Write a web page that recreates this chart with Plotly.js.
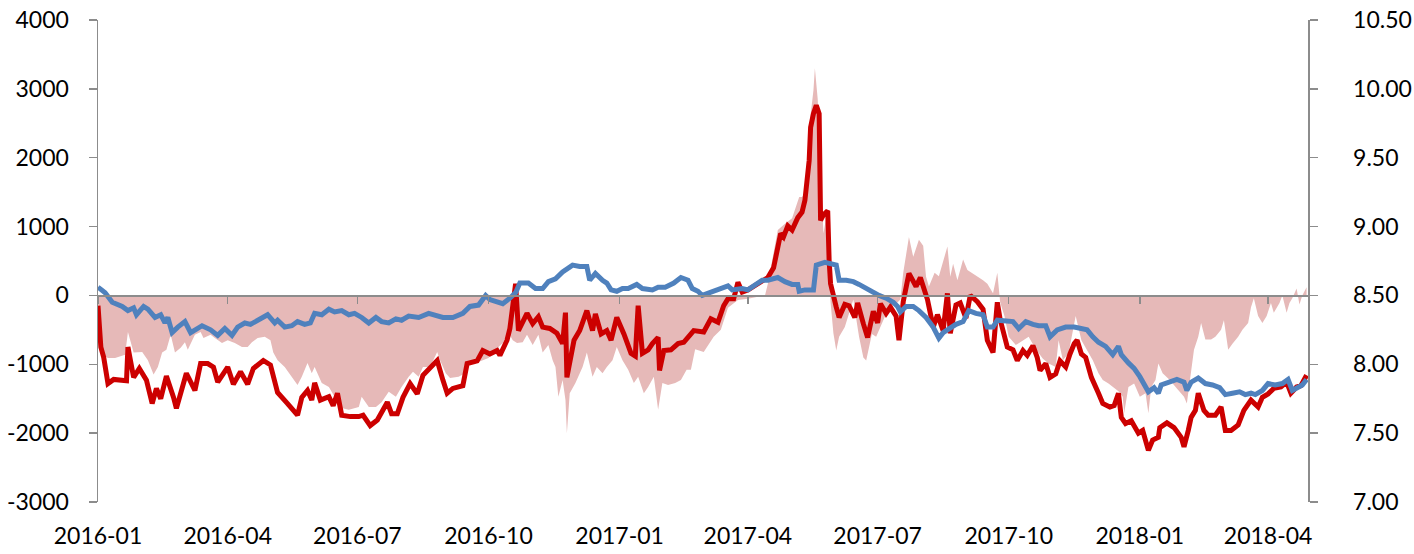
<!DOCTYPE html>
<html>
<head>
<meta charset="utf-8">
<script src="https://cdn.plot.ly/plotly-3.0.1.min.js"></script>
<style>
  html, body { margin: 0; padding: 0; background: #ffffff; }
  #chart { width: 1414px; height: 554px; }
</style>
</head>
<body>
<div id="chart"></div>
<script>
// ---- Data ----
const xTickVals = ['2016-01-01','2016-04-01','2016-07-01','2016-10-01','2017-01-01','2017-04-01','2017-07-01','2017-10-01','2018-01-01','2018-04-01'];
const xTickText = ['2016-01','2016-04','2016-07','2016-10','2017-01','2017-04','2017-07','2017-10','2018-01','2018-04'];
const leftTickVals = [-3000,-2000,-1000,0,1000,2000,3000,4000];
const leftTickText = ['-3000','-2000','-1000','0','1000','2000','3000','4000'];
const rightTickVals = [7.0,7.5,8.0,8.5,9.0,9.5,10.0,10.5];
const rightTickText = ['7.00','7.50','8.00','8.50','9.00','9.50','10.00','10.50'];

// Pink area series (left axis)
const areaDates = ['2016-01-01','2016-01-03','2016-01-08','2016-01-13','2016-01-20','2016-01-22','2016-01-26','2016-02-01','2016-02-05','2016-02-09','2016-02-12','2016-02-15','2016-02-18','2016-02-21','2016-02-24','2016-02-28','2016-03-02','2016-03-04','2016-03-09','2016-03-13','2016-03-15','2016-03-20','2016-03-23','2016-03-28','2016-04-01','2016-04-06','2016-04-11','2016-04-15','2016-04-18','2016-04-22','2016-04-27','2016-05-01','2016-05-03','2016-05-06','2016-05-11','2016-05-16','2016-05-20','2016-05-23','2016-05-27','2016-05-30','2016-06-01','2016-06-06','2016-06-11','2016-06-15','2016-06-19','2016-06-25','2016-07-02','2016-07-04','2016-07-09','2016-07-14','2016-07-18','2016-07-23','2016-07-28','2016-08-01','2016-08-06','2016-08-09','2016-08-13','2016-08-16','2016-08-21','2016-08-26','2016-08-28','2016-09-01','2016-09-04','2016-09-10','2016-09-13','2016-09-16','2016-09-22','2016-09-27','2016-10-01','2016-10-06','2016-10-11','2016-10-15','2016-10-18','2016-10-21','2016-10-25','2016-10-28','2016-11-01','2016-11-05','2016-11-08','2016-11-12','2016-11-15','2016-11-17','2016-11-19','2016-11-22','2016-11-24','2016-11-25','2016-11-27','2016-12-01','2016-12-06','2016-12-09','2016-12-13','2016-12-16','2016-12-20','2016-12-23','2016-12-27','2016-12-30','2017-01-03','2017-01-07','2017-01-11','2017-01-14','2017-01-18','2017-01-21','2017-01-25','2017-01-28','2017-01-31','2017-02-04','2017-02-09','2017-02-13','2017-02-17','2017-02-20','2017-02-23','2017-03-01','2017-03-08','2017-03-13','2017-03-18','2017-03-25','2017-04-01','2017-04-08','2017-04-13','2017-04-15','2017-04-18','2017-04-20','2017-04-22','2017-04-27','2017-05-02','2017-05-07','2017-05-09','2017-05-11','2017-05-14','2017-05-17','2017-05-18','2017-05-20','2017-05-22','2017-05-24','2017-05-26','2017-05-28','2017-05-29','2017-05-31','2017-06-02','2017-06-04','2017-06-08','2017-06-11','2017-06-14','2017-06-16','2017-06-18','2017-06-21','2017-06-23','2017-06-27','2017-06-30','2017-07-05','2017-07-09','2017-07-14','2017-07-17','2017-07-19','2017-07-23','2017-07-26','2017-07-30','2017-08-02','2017-08-04','2017-08-06','2017-08-10','2017-08-13','2017-08-16','2017-08-19','2017-08-21','2017-08-23','2017-08-26','2017-08-30','2017-09-02','2017-09-06','2017-09-09','2017-09-13','2017-09-16','2017-09-20','2017-09-23','2017-09-25','2017-09-28','2017-10-01','2017-10-06','2017-10-11','2017-10-15','2017-10-20','2017-10-25','2017-10-29','2017-11-03','2017-11-05','2017-11-08','2017-11-12','2017-11-17','2017-11-21','2017-11-25','2017-11-29','2017-12-03','2017-12-06','2017-12-10','2017-12-13','2017-12-17','2017-12-20','2017-12-21','2017-12-24','2017-12-28','2018-01-01','2018-01-05','2018-01-07','2018-01-09','2018-01-12','2018-01-14','2018-01-17','2018-01-22','2018-01-27','2018-02-01','2018-02-03','2018-02-05','2018-02-08','2018-02-11','2018-02-13','2018-02-16','2018-02-20','2018-02-23','2018-02-27','2018-03-01','2018-03-04','2018-03-07','2018-03-11','2018-03-14','2018-03-18','2018-03-20','2018-03-22','2018-03-25','2018-03-28','2018-03-31','2018-04-03','2018-04-05','2018-04-09','2018-04-11','2018-04-14','2018-04-16','2018-04-18','2018-04-21','2018-04-23','2018-04-25','2018-04-28'];
const areaValues = [-400,-850,-910,-910,-860,-530,-830,-820,-940,-1150,-1040,-830,-790,-570,-830,-760,-680,-790,-570,-530,-620,-570,-620,-690,-650,-690,-750,-750,-680,-620,-600,-650,-830,-940,-1040,-1180,-1300,-1180,-980,-1130,-1040,-1270,-1330,-1470,-1630,-1660,-1620,-1470,-1620,-1620,-1550,-1400,-1470,-1330,-1180,-1110,-1180,-1040,-1040,-820,-940,-1130,-1200,-1180,-1150,-980,-980,-940,-910,-790,-690,-540,-650,-690,-680,-570,-720,-570,-830,-720,-940,-1040,-1470,-1230,-1520,-2000,-1420,-1270,-1040,-830,-1180,-1040,-1130,-1040,-940,-750,-940,-1080,-1270,-1180,-1420,-1330,-1180,-1660,-1270,-1300,-1270,-1230,-1080,-1080,-780,-820,-600,-500,-180,-65,-50,-20,0,170,500,750,950,1040,1120,1430,1430,1480,2440,2980,3300,2850,1960,900,1140,550,-100,-550,-800,-600,-460,-250,-60,-340,-600,-900,-945,-560,-600,-360,-170,-120,-60,330,850,560,810,720,270,130,330,280,510,710,270,460,220,520,370,320,270,220,170,30,330,-100,-300,-600,-720,-650,-600,-780,-920,-990,-1040,-650,-940,-840,-300,-650,-790,-940,-1130,-1230,-1280,-1330,-1390,-1470,-1710,-1330,-1280,-1470,-1420,-1710,-1330,-1230,-990,-1130,-1230,-1350,-1470,-1570,-1230,-790,-600,-400,-640,-640,-600,-500,-360,-790,-700,-600,-500,-400,-170,-40,-300,-400,-300,-110,-250,-110,0,-250,-110,-40,100,-130,0,120];

// Red line series (left axis)
const redDates = ['2016-01-01','2016-01-03','2016-01-05','2016-01-08','2016-01-12','2016-01-16','2016-01-21','2016-01-22','2016-01-26','2016-01-30','2016-02-04','2016-02-08','2016-02-11','2016-02-14','2016-02-18','2016-02-23','2016-02-25','2016-03-03','2016-03-09','2016-03-13','2016-03-18','2016-03-22','2016-03-25','2016-04-01','2016-04-05','2016-04-10','2016-04-15','2016-04-19','2016-04-26','2016-05-01','2016-05-06','2016-05-13','2016-05-20','2016-05-23','2016-05-27','2016-05-30','2016-06-01','2016-06-05','2016-06-11','2016-06-14','2016-06-17','2016-06-20','2016-06-26','2016-07-02','2016-07-05','2016-07-10','2016-07-15','2016-07-22','2016-07-25','2016-07-29','2016-08-02','2016-08-07','2016-08-12','2016-08-16','2016-08-21','2016-08-26','2016-08-30','2016-09-02','2016-09-06','2016-09-13','2016-09-16','2016-09-23','2016-09-27','2016-10-02','2016-10-07','2016-10-09','2016-10-14','2016-10-16','2016-10-20','2016-10-22','2016-10-28','2016-11-01','2016-11-05','2016-11-08','2016-11-13','2016-11-18','2016-11-22','2016-11-24','2016-11-25','2016-11-30','2016-12-04','2016-12-09','2016-12-13','2016-12-15','2016-12-19','2016-12-23','2016-12-26','2016-12-30','2017-01-04','2017-01-09','2017-01-12','2017-01-14','2017-01-17','2017-01-21','2017-01-24','2017-01-28','2017-01-29','2017-02-01','2017-02-06','2017-02-11','2017-02-15','2017-02-22','2017-03-01','2017-03-06','2017-03-11','2017-03-15','2017-03-18','2017-03-22','2017-03-25','2017-03-28','2017-04-01','2017-04-06','2017-04-11','2017-04-15','2017-04-19','2017-04-22','2017-04-24','2017-04-26','2017-04-29','2017-05-02','2017-05-06','2017-05-09','2017-05-11','2017-05-14','2017-05-15','2017-05-17','2017-05-19','2017-05-21','2017-05-22','2017-05-24','2017-05-27','2017-05-28','2017-05-29','2017-06-02','2017-06-04','2017-06-08','2017-06-11','2017-06-15','2017-06-17','2017-06-21','2017-06-24','2017-06-28','2017-07-01','2017-07-03','2017-07-07','2017-07-10','2017-07-14','2017-07-16','2017-07-19','2017-07-23','2017-07-28','2017-07-31','2017-08-05','2017-08-09','2017-08-12','2017-08-16','2017-08-19','2017-08-21','2017-08-25','2017-08-28','2017-09-01','2017-09-04','2017-09-09','2017-09-13','2017-09-16','2017-09-20','2017-09-23','2017-09-25','2017-09-30','2017-10-04','2017-10-07','2017-10-11','2017-10-14','2017-10-18','2017-10-21','2017-10-23','2017-10-27','2017-10-30','2017-11-03','2017-11-06','2017-11-10','2017-11-13','2017-11-16','2017-11-18','2017-11-21','2017-11-24','2017-11-28','2017-12-03','2017-12-06','2017-12-11','2017-12-14','2017-12-17','2017-12-19','2017-12-22','2017-12-26','2017-12-31','2018-01-03','2018-01-07','2018-01-10','2018-01-14','2018-01-15','2018-01-20','2018-01-25','2018-01-30','2018-02-01','2018-02-04','2018-02-06','2018-02-09','2018-02-11','2018-02-15','2018-02-18','2018-02-23','2018-02-27','2018-03-02','2018-03-06','2018-03-11','2018-03-15','2018-03-20','2018-03-25','2018-03-28','2018-04-01','2018-04-05','2018-04-10','2018-04-14','2018-04-17','2018-04-21','2018-04-24','2018-04-28'];
const redValues = [-150,-750,-900,-1280,-1220,-1230,-1240,-750,-1190,-1060,-1230,-1570,-1350,-1500,-1170,-1480,-1640,-1130,-1380,-990,-990,-1040,-1260,-1040,-1290,-1110,-1290,-1060,-945,-1010,-1410,-1570,-1740,-1480,-1380,-1520,-1270,-1520,-1470,-1600,-1420,-1740,-1760,-1760,-1740,-1890,-1810,-1550,-1720,-1720,-1480,-1280,-1430,-1160,-1060,-945,-1230,-1420,-1350,-1310,-990,-950,-800,-850,-800,-870,-650,-480,170,-510,-260,-410,-310,-460,-480,-550,-700,-250,-1190,-650,-510,-220,-510,-270,-560,-510,-650,-320,-560,-840,-880,-150,-840,-790,-700,-610,-1090,-800,-790,-700,-680,-510,-530,-340,-390,-150,-50,-50,190,50,80,150,210,260,400,750,900,850,1010,950,1130,1210,1380,1960,2440,2640,2760,2640,1090,1170,1230,510,170,-170,-320,-130,-150,-320,-110,-410,-610,-230,-400,-120,-260,-170,-300,-650,-90,320,130,260,-60,-460,-280,-510,30,-550,-140,-110,-330,0,-90,-200,-650,-830,-100,-350,-750,-790,-945,-800,-870,-730,-900,-1090,-990,-1190,-1140,-950,-1040,-850,-700,-650,-850,-900,-1190,-1420,-1570,-1620,-1600,-1420,-1770,-1860,-1820,-2000,-1960,-2250,-2100,-2060,-1920,-1850,-1920,-2060,-2200,-1960,-1770,-1670,-1420,-1670,-1740,-1740,-1620,-1960,-1960,-1880,-1670,-1520,-1620,-1480,-1430,-1350,-1330,-1260,-1420,-1330,-1310,-1160];

// Blue line series (right axis)
const blueDates = ['2016-01-01','2016-01-06','2016-01-11','2016-01-18','2016-01-22','2016-01-26','2016-01-28','2016-02-02','2016-02-05','2016-02-10','2016-02-14','2016-02-17','2016-02-19','2016-02-22','2016-02-26','2016-03-02','2016-03-06','2016-03-09','2016-03-14','2016-03-20','2016-03-25','2016-03-30','2016-04-04','2016-04-08','2016-04-13','2016-04-17','2016-04-22','2016-04-26','2016-04-29','2016-05-04','2016-05-06','2016-05-11','2016-05-16','2016-05-20','2016-05-25','2016-05-29','2016-06-01','2016-06-06','2016-06-11','2016-06-15','2016-06-20','2016-06-25','2016-06-29','2016-07-04','2016-07-09','2016-07-14','2016-07-18','2016-07-23','2016-07-28','2016-08-01','2016-08-06','2016-08-13','2016-08-20','2016-08-30','2016-09-06','2016-09-13','2016-09-18','2016-09-24','2016-09-29','2016-10-02','2016-10-11','2016-10-16','2016-10-20','2016-10-23','2016-10-29','2016-11-03','2016-11-08','2016-11-12','2016-11-17','2016-11-22','2016-11-29','2016-12-04','2016-12-09','2016-12-11','2016-12-15','2016-12-20','2016-12-23','2016-12-26','2016-12-30','2017-01-03','2017-01-07','2017-01-13','2017-01-17','2017-01-24','2017-01-28','2017-02-02','2017-02-08','2017-02-13','2017-02-18','2017-02-21','2017-02-25','2017-02-28','2017-03-07','2017-03-11','2017-03-18','2017-03-21','2017-03-28','2017-04-01','2017-04-06','2017-04-11','2017-04-15','2017-04-22','2017-04-27','2017-05-02','2017-05-06','2017-05-07','2017-05-11','2017-05-17','2017-05-19','2017-05-25','2017-06-02','2017-06-04','2017-06-09','2017-06-14','2017-06-18','2017-06-23','2017-06-28','2017-07-02','2017-07-07','2017-07-12','2017-07-15','2017-07-17','2017-07-21','2017-07-26','2017-07-30','2017-08-04','2017-08-09','2017-08-13','2017-08-16','2017-08-20','2017-08-25','2017-08-30','2017-09-03','2017-09-08','2017-09-13','2017-09-16','2017-09-20','2017-09-23','2017-09-29','2017-10-04','2017-10-08','2017-10-13','2017-10-18','2017-10-22','2017-10-27','2017-10-30','2017-11-04','2017-11-10','2017-11-16','2017-11-22','2017-11-25','2017-11-29','2017-12-03','2017-12-08','2017-12-13','2017-12-17','2017-12-19','2017-12-24','2017-12-28','2018-01-01','2018-01-04','2018-01-07','2018-01-11','2018-01-14','2018-01-16','2018-01-21','2018-01-27','2018-02-01','2018-02-03','2018-02-06','2018-02-11','2018-02-16','2018-02-21','2018-02-26','2018-03-02','2018-03-07','2018-03-12','2018-03-16','2018-03-20','2018-03-23','2018-03-28','2018-04-01','2018-04-06','2018-04-11','2018-04-15','2018-04-18','2018-04-22','2018-04-25','2018-04-28'];
const blueValues = [8.56,8.52,8.45,8.42,8.39,8.41,8.36,8.42,8.40,8.34,8.36,8.30,8.34,8.23,8.27,8.31,8.23,8.25,8.28,8.25,8.21,8.26,8.21,8.27,8.30,8.29,8.32,8.34,8.36,8.30,8.32,8.27,8.28,8.31,8.29,8.30,8.37,8.36,8.40,8.38,8.39,8.36,8.37,8.34,8.30,8.34,8.31,8.30,8.33,8.32,8.35,8.34,8.37,8.34,8.34,8.37,8.42,8.43,8.50,8.47,8.44,8.48,8.52,8.59,8.59,8.55,8.55,8.60,8.62,8.67,8.72,8.71,8.71,8.61,8.66,8.61,8.59,8.54,8.53,8.55,8.55,8.58,8.55,8.54,8.56,8.56,8.59,8.63,8.61,8.55,8.53,8.50,8.53,8.54,8.57,8.54,8.55,8.54,8.58,8.61,8.61,8.63,8.60,8.58,8.58,8.53,8.54,8.54,8.72,8.74,8.72,8.61,8.61,8.60,8.58,8.55,8.53,8.50,8.48,8.45,8.42,8.38,8.42,8.42,8.39,8.34,8.27,8.19,8.23,8.26,8.29,8.31,8.39,8.37,8.36,8.27,8.27,8.32,8.31,8.31,8.26,8.31,8.29,8.28,8.28,8.20,8.25,8.27,8.27,8.26,8.25,8.20,8.16,8.13,8.07,8.13,8.07,8.01,7.97,7.91,7.86,7.80,7.83,7.79,7.85,7.87,7.89,7.87,7.81,7.87,7.90,7.86,7.85,7.83,7.78,7.79,7.80,7.78,7.79,7.78,7.81,7.86,7.85,7.86,7.89,7.81,7.83,7.85,7.89];

const xRange = ['2016-01-01', '2018-04-29'];

// ---- Styles ----
const AXIS_GREY = '#8c8c8c';
const TEXT_FONT = { family: 'Lato, "Open Sans", sans-serif', size: 23, color: '#000000' };

const traces = [
  {
    type: 'scatter', mode: 'lines', name: 'area',
    x: areaDates, y: areaValues, xaxis: 'x', yaxis: 'y',
    fill: 'tozeroy', fillcolor: '#E6B9B8',
    line: { width: 0, color: '#E6B9B8' },
    hoverinfo: 'skip'
  },
  {
    type: 'scatter', mode: 'lines', name: 'red',
    x: redDates, y: redValues, xaxis: 'x', yaxis: 'y',
    line: { width: 5, color: '#CC0000', join: 'round' }
  },
  {
    type: 'scatter', mode: 'lines', name: 'blue',
    x: blueDates, y: blueValues, xaxis: 'x', yaxis: 'y2',
    line: { width: 5, color: '#4F81BD', join: 'round' }
  },
  // invisible carrier so the zero-crossing category axis (x2) is drawn
  {
    type: 'scatter', mode: 'lines', name: 'axis-carrier',
    x: areaDates, y: areaValues, xaxis: 'x2', yaxis: 'y',
    line: { width: 0, color: 'rgba(0,0,0,0)' }, opacity: 0,
    hoverinfo: 'skip', showlegend: false
  }
];

const layout = {
  width: 1414, height: 554,
  margin: { l: 98, r: 106, t: 20, b: 52, pad: 0 },
  paper_bgcolor: '#ffffff', plot_bgcolor: '#ffffff',
  showlegend: false,
  font: TEXT_FONT,
  xaxis: {
    type: 'date', range: xRange, anchor: 'y', side: 'bottom',
    tickmode: 'array', tickvals: xTickVals, ticktext: xTickText,
    ticks: '', showline: false, showgrid: false, zeroline: false,
    tickfont: TEXT_FONT, ticklabelstandoff: 18
  },
  xaxis2: {
    type: 'date', range: xRange, overlaying: 'x',
    anchor: 'free', position: 3 / 7,
    showline: true, linecolor: AXIS_GREY, linewidth: 1.5,
    ticks: 'outside', ticklen: 7, tickwidth: 1.5, tickcolor: AXIS_GREY,
    tickmode: 'array', tickvals: xTickVals,
    showticklabels: false, showgrid: false, zeroline: false
  },
  yaxis: {
    range: [-3000, 4000], anchor: 'x',
    tickmode: 'array', tickvals: leftTickVals, ticktext: leftTickText,
    ticks: 'outside', ticklen: 8, tickwidth: 1.5, tickcolor: AXIS_GREY,
    showline: true, linecolor: AXIS_GREY, linewidth: 1.5,
    showgrid: false, zeroline: false,
    tickfont: TEXT_FONT, ticklabelstandoff: 15
  },
  yaxis2: {
    range: [7, 10.5], overlaying: 'y', side: 'right', anchor: 'x',
    tickmode: 'array', tickvals: rightTickVals, ticktext: rightTickText,
    ticks: 'outside', ticklen: 8, tickwidth: 1.5, tickcolor: AXIS_GREY,
    showline: true, linecolor: AXIS_GREY, linewidth: 1.5,
    showgrid: false, zeroline: false,
    tickfont: TEXT_FONT, ticklabelstandoff: 31
  }
};

Plotly.newPlot('chart', traces, layout, { displayModeBar: false, staticPlot: true });
</script>
</body>
</html>
